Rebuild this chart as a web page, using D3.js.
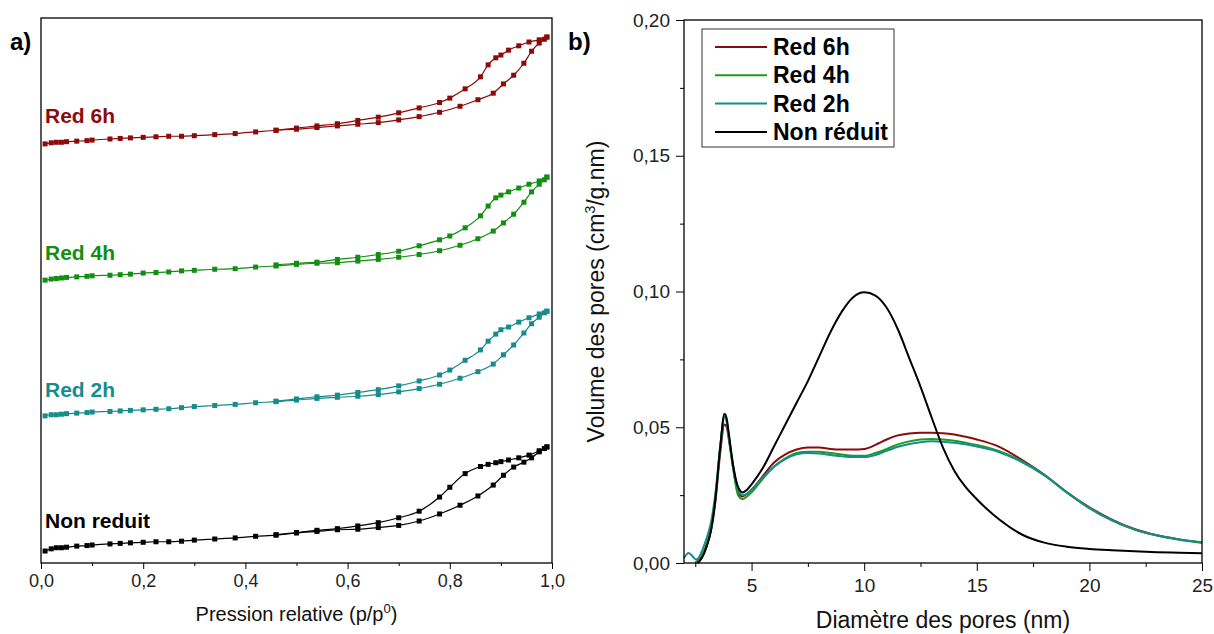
<!DOCTYPE html>
<html><head><meta charset="utf-8">
<script src="https://cdn.jsdelivr.net/npm/d3@7"></script>
<style>
body{margin:0;background:#fff;}
svg text{font-family:"Liberation Sans",Arial,Helvetica,sans-serif;}
</style>
</head><body>
<svg id="chart" width="1214" height="634"></svg>
<script>
// ---------- Panel a) : N2 isotherms (stacked, arbitrary units) ----------
const isoNames = ["Red 6h", "Red 4h", "Red 2h", "Non reduit"];
const isoColors = ["#8b0a0a", "#128e12", "#178c8c", "#000000"];
const adsP = [0.008,0.02,0.03,0.04,0.05,0.07,0.09,0.1,0.135,0.155,0.175,0.2,0.225,0.25,0.275,0.3,0.34,0.38,0.42,0.46,0.5,0.54,0.58,0.62,0.66,0.7,0.74,0.78,0.82,0.855,0.885,0.905,0.925,0.945,0.96,0.975,0.985,0.99];
const desP = [0.99,0.975,0.955,0.935,0.915,0.9,0.89,0.875,0.86,0.83,0.8,0.78,0.74,0.7,0.66,0.62,0.58,0.54,0.5,0.46];
const red6hAds = [76.9,77.1,77.2,77.2,77.3,77.4,77.5,77.6,77.8,77.9,78.0,78.1,78.2,78.3,78.3,78.4,78.6,78.8,79.1,79.4,79.6,79.9,80.2,80.5,80.8,81.3,81.9,82.7,83.8,85.0,86.2,87.9,89.5,91.7,93.9,95.4,96.1,96.5];
const red6hDes = [96.5,96.0,95.6,94.9,94.1,93.2,92.7,91.4,89.2,87.0,85.3,84.5,83.5,82.6,81.8,81.2,80.6,80.2,79.8,79.4];
const red4hAds = [51.9,52.1,52.2,52.3,52.4,52.5,52.6,52.7,52.8,52.9,53.0,53.2,53.3,53.4,53.6,53.7,53.9,54.0,54.3,54.5,54.8,55.0,55.1,55.4,55.7,56.1,56.6,57.3,58.3,59.5,60.9,62.4,64.0,66.2,68.1,69.5,70.3,70.8];
const red4hDes = [70.8,70.1,69.5,68.8,68.1,67.5,67.0,65.5,63.7,61.5,60.0,59.3,58.2,57.2,56.6,56.1,55.7,55.2,55.0,54.7];
const red2hAds = [27.0,27.2,27.2,27.3,27.4,27.5,27.6,27.7,27.8,27.9,28.0,28.1,28.2,28.3,28.5,28.7,28.9,29.1,29.4,29.6,29.9,30.2,30.4,30.6,30.9,31.4,32.0,32.8,33.9,35.1,36.5,38.2,40.0,42.2,43.9,45.1,45.9,46.2];
const red2hDes = [46.2,45.7,45.0,44.2,43.3,42.8,42.0,40.7,39.1,37.2,35.4,34.5,33.4,32.5,31.8,31.3,30.8,30.5,30.1,29.7];
const nonRedAds = [2.2,2.6,2.8,2.8,2.9,3.1,3.2,3.3,3.5,3.6,3.7,3.8,3.9,3.9,4.0,4.2,4.4,4.6,4.9,5.1,5.5,5.8,6.1,6.2,6.5,6.9,7.7,9.0,10.6,12.3,14.3,16.1,17.6,18.5,19.3,20.4,21.0,21.3];
const nonRedDes = [21.3,20.6,19.8,19.3,18.9,18.6,18.4,18.1,17.7,16.4,13.9,12.1,9.5,8.3,7.4,6.8,6.3,6.0,5.6,5.2];
const isoPTicks = [0,0.2,0.4,0.6,0.8,1.0];

// ---------- Panel b) : pore size distribution ----------
const psdNames = ["Red 6h", "Red 4h", "Red 2h", "Non réduit"];
const psdColors = ["#8b0a0a", "#1e9a1e", "#178c8c", "#000000"];
const poreD = [2.0,2.2,2.4,2.5,2.6,2.8,3.0,3.2,3.4,3.6,3.8,3.9,4.0,4.2,4.4,4.6,4.8,5.0,5.5,6.0,6.5,7.0,7.5,8.0,8.5,9.0,9.5,10.0,10.5,11.0,11.5,12.0,12.5,13.0,13.5,14.0,14.5,15.0,16,17,18,19,20,21,22,23,24,25];
const psdRed6h = [null,null,null,null,0,0.002,0.006,0.012,0.023,0.040,0.051,0.050,0.045,0.034,0.026,0.0245,0.0255,0.027,0.032,0.037,0.040,0.0418,0.0425,0.0425,0.042,0.0418,0.0418,0.042,0.0435,0.0455,0.047,0.0477,0.048,0.048,0.0478,0.0473,0.0465,0.0455,0.0428,0.038,0.0325,0.026,0.0205,0.016,0.0125,0.0102,0.0087,0.0075];
const psdRed4h = [null,null,null,0,0.001,0.003,0.007,0.013,0.025,0.042,0.054,0.052,0.046,0.034,0.025,0.0235,0.0245,0.026,0.031,0.0355,0.0385,0.0405,0.041,0.041,0.0405,0.040,0.0395,0.0395,0.0405,0.042,0.0437,0.0448,0.0455,0.0457,0.0455,0.045,0.0443,0.0435,0.0412,0.0375,0.0325,0.026,0.0202,0.0157,0.0123,0.0101,0.0086,0.0075];
const psdRed2h = [0.0018,0.0037,0.0023,0.0014,0.0015,0.0045,0.009,0.015,0.026,0.042,0.054,0.052,0.046,0.035,0.027,0.025,0.0255,0.027,0.0315,0.0355,0.0383,0.040,0.0405,0.0403,0.0398,0.0393,0.039,0.039,0.0398,0.0413,0.0428,0.0438,0.0445,0.0448,0.0447,0.0443,0.0437,0.0429,0.0408,0.0372,0.0323,0.026,0.0202,0.0157,0.0124,0.0102,0.0087,0.0076];
const psdNonRed = [null,null,null,null,0,0.002,0.006,0.012,0.024,0.042,0.055,0.053,0.047,0.035,0.028,0.026,0.027,0.029,0.035,0.043,0.051,0.059,0.067,0.076,0.085,0.0925,0.0978,0.0997,0.0985,0.094,0.086,0.0755,0.065,0.0535,0.0425,0.034,0.028,0.0235,0.016,0.0105,0.0075,0.006,0.0052,0.0047,0.0043,0.004,0.0038,0.0036];
const psdXTicks = [5,10,15,20,25];
const psdYTicks = [0,0.05,0.10,0.15,0.20];

// ---------- drawing ----------
const svg = d3.select("#chart");
const comma = (f) => (v) => d3.format(f)(v).replace(".", ",");

// Panel a
const A = {l: 41, r: 552, t: 18, b: 563};
const xA = d3.scaleLinear().domain([0, 1]).range([A.l, A.r]);
const yA = d3.scaleLinear().domain([0, 100]).range([A.b, A.t]);
const isoAds = [red6hAds, red4hAds, red2hAds, nonRedAds];
const isoDes = [red6hDes, red4hDes, red2hDes, nonRedDes];
const lineA = d3.line().x(d => xA(d[0])).y(d => yA(d[1])).curve(d3.curveMonotoneX);
const gA = svg.append("g");
isoNames.forEach((name, i) => {
  const ads = adsP.map((p, j) => [p, isoAds[i][j]]);
  const des = desP.map((p, j) => [p, isoDes[i][j]]).sort((a, b) => a[0] - b[0]);
  [ads, des].forEach(branch => {
    gA.append("path").attr("d", lineA(branch)).attr("fill", "none")
      .attr("stroke", isoColors[i]).attr("stroke-width", 1.2);
    gA.selectAll(null).data(branch).enter().append("rect")
      .attr("x", d => xA(d[0]) - 2.5).attr("y", d => yA(d[1]) - 2.5)
      .attr("width", 5).attr("height", 5).attr("fill", isoColors[i]);
  });
});
// series labels
const isoLabelY = [123, 260, 397, 528];
isoNames.forEach((name, i) => {
  svg.append("text").attr("x", 45).attr("y", isoLabelY[i]).text(name)
    .attr("fill", isoColors[i]).attr("font-weight", "bold").attr("font-size", 21);
});
svg.append("rect").attr("x", A.l).attr("y", A.t).attr("width", A.r - A.l).attr("height", A.b - A.t)
  .attr("fill", "none").attr("stroke", "#000").attr("stroke-width", 1.3);
const axA = svg.append("g").attr("transform", `translate(0,${A.b})`)
  .call(d3.axisBottom(xA).tickValues(isoPTicks).tickFormat(comma(".1f")).tickSize(6).tickPadding(5));
svg.append("g").attr("transform", `translate(0,${A.b})`)
  .call(d3.axisBottom(xA).tickValues([0.1,0.3,0.5,0.7,0.9]).tickFormat("").tickSize(3));
axA.selectAll("text").attr("font-size", 18).attr("fill", "#222");
svg.selectAll(".domain").remove();
const tA = svg.append("text").attr("x", (A.l + A.r) / 2).attr("y", 621).attr("text-anchor", "middle")
  .attr("font-size", 20).attr("fill", "#111");
tA.append("tspan").text("Pression relative (p/p");
tA.append("tspan").text("0").attr("font-size", 13).attr("dy", -8);
tA.append("tspan").text(")").attr("dy", 8);
svg.append("text").attr("x", 10).attr("y", 50).text("a)").attr("font-weight", "bold").attr("font-size", 24);

// Panel b
const B = {l: 684, r: 1202, t: 20, b: 563};
const xB = d3.scaleLinear().domain([2, 25]).range([B.l, B.r]);
const yB = d3.scaleLinear().domain([0, 0.2]).range([B.b, B.t]);
const psdVals = [psdRed6h, psdRed4h, psdRed2h, psdNonRed];
const lineB = d3.line().defined(d => d[1] != null).x(d => xB(d[0])).y(d => yB(d[1])).curve(d3.curveMonotoneX);
psdNames.forEach((name, i) => {
  const pts = poreD.map((x, j) => [x, psdVals[i][j]]);
  svg.append("path").attr("d", lineB(pts)).attr("fill", "none")
    .attr("stroke", psdColors[i]).attr("stroke-width", 2);
});
svg.append("rect").attr("x", B.l).attr("y", B.t).attr("width", B.r - B.l).attr("height", B.b - B.t)
  .attr("fill", "none").attr("stroke", "#000").attr("stroke-width", 1.3);
const axBx = svg.append("g").attr("transform", `translate(0,${B.b})`)
  .call(d3.axisBottom(xB).tickValues(psdXTicks).tickSize(8).tickPadding(8));
svg.append("g").attr("transform", `translate(0,${B.b})`)
  .call(d3.axisBottom(xB).tickValues([2.5,7.5,12.5,17.5,22.5]).tickFormat("").tickSize(4));
const axBy = svg.append("g").attr("transform", `translate(${B.l},0)`)
  .call(d3.axisLeft(yB).tickValues(psdYTicks).tickFormat(comma(".2f")).tickSize(8).tickPadding(6));
svg.append("g").attr("transform", `translate(${B.l},0)`)
  .call(d3.axisLeft(yB).tickValues([0.025,0.075,0.125,0.175]).tickFormat("").tickSize(4));
[axBx, axBy].forEach(g => g.selectAll("text").attr("font-size", 19).attr("fill", "#222"));
svg.selectAll(".domain").remove();
svg.append("text").attr("x", (B.l + B.r) / 2).attr("y", 628).attr("text-anchor", "middle")
  .attr("font-size", 23).attr("fill", "#111").text("Diamètre des pores (nm)");
const tB = svg.append("text").attr("transform", `translate(604,${(B.t + B.b) / 2}) rotate(-90)`)
  .attr("text-anchor", "middle").attr("font-size", 23).attr("fill", "#111");
tB.append("tspan").text("Volume des pores (cm");
tB.append("tspan").text("3").attr("font-size", 14).attr("dy", -9);
tB.append("tspan").text("/g.nm)").attr("dy", 9);
svg.append("text").attr("x", 568).attr("y", 50).text("b)").attr("font-weight", "bold").attr("font-size", 24);

// legend
const L = {x: 702, y: 29, w: 192, h: 118};
svg.append("rect").attr("x", L.x).attr("y", L.y).attr("width", L.w).attr("height", L.h)
  .attr("fill", "#fff").attr("stroke", "#333").attr("stroke-width", 1);
psdNames.forEach((name, i) => {
  const cy = L.y + 18 + i * 28.3;
  svg.append("line").attr("x1", L.x + 13).attr("x2", L.x + 65).attr("y1", cy).attr("y2", cy)
    .attr("stroke", psdColors[i]).attr("stroke-width", 2);
  svg.append("text").attr("x", L.x + 71).attr("y", cy + 8).text(name)
    .attr("font-weight", "bold").attr("font-size", 23).attr("fill", "#000");
});
</script>
</body></html>
